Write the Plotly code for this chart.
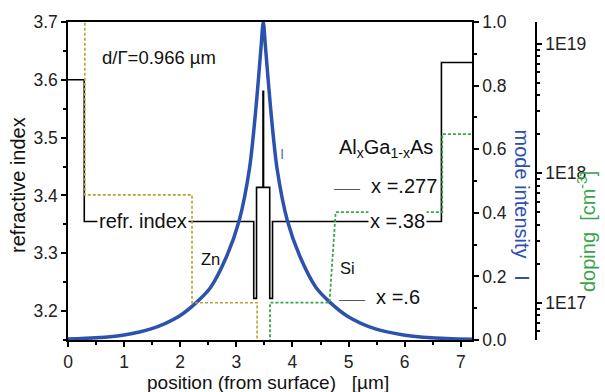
import plotly.graph_objects as go

# ---------------- data ----------------
# mode intensity profile I(x)
mode_x = [0.0, 0.5, 1.0, 1.48, 1.98, 2.30, 2.54, 2.82, 3.05, 3.235, 3.355, 3.44, 3.48,
          3.52, 3.605, 3.725, 3.91, 4.14, 4.42, 4.66, 4.98, 5.48, 5.98, 6.48, 7.2]
mode_I = [0.003, 0.007, 0.016, 0.035, 0.075, 0.12, 0.165, 0.26, 0.375, 0.54, 0.74, 0.92, 1.0,
          0.92, 0.74, 0.54, 0.375, 0.26, 0.165, 0.12, 0.075, 0.035, 0.016, 0.007, 0.002]

# refractive index step profile (value holds from each x until the next)
refr_x = [0.0, 0.29, 3.31, 3.36, 3.475, 3.485, 3.595, 3.645, 6.655, 7.2]
refr_n = [3.60, 3.355, 3.222, 3.414, 3.58, 3.414, 3.222, 3.355, 3.63, 3.63]

# Zn doping (p side), value holds until next x
zn_x = [0.0, 0.30, 2.21, 3.37]
zn_d = [2.0e19, 6.8e17, 1.0e17, 1.0e16]

# Si doping (n side)
si_x = [3.60, 3.60, 4.66, 4.77, 6.67, 6.67, 7.2]
si_d = [1.0e16, 1.0e17, 1.0e17, 5.0e17, 5.0e17, 2.0e18, 2.0e18]

x_ticks = [0, 1, 2, 3, 4, 5, 6, 7]
n_ticks = [3.2, 3.3, 3.4, 3.5, 3.6, 3.7]
I_ticks = [0.0, 0.2, 0.4, 0.6, 0.8, 1.0]
dop_ticks = [1e17, 1e18, 1e19]
dop_labels = ["1E17", "1E18", "1E19"]
dop_minor = [k * 10 ** e for e in (16, 17, 18) for k in range(2, 10)]

FONT = "Liberation Sans, Arial, sans-serif"
BLUE = "#2d52ad"
GREEN = "#3aa548"
OLIVE = "#b4a338"

fig = go.Figure()

fig.add_trace(go.Scatter(x=refr_x, y=refr_n, mode="lines", line_shape="hv",
                         line=dict(color="black", width=1.6), xaxis="x", yaxis="y",
                         showlegend=False, hoverinfo="skip"))
fig.add_trace(go.Scatter(x=zn_x, y=zn_d, mode="lines", line_shape="hv",
                         line=dict(color=OLIVE, width=1.6, dash="3px,2px"),
                         xaxis="x", yaxis="y3", showlegend=False, hoverinfo="skip"))
fig.add_trace(go.Scatter(x=si_x, y=si_d, mode="lines",
                         line=dict(color=GREEN, width=1.8, dash="3px,2px"),
                         xaxis="x", yaxis="y3", showlegend=False, hoverinfo="skip"))
fig.add_trace(go.Scatter(x=mode_x, y=mode_I, mode="lines", line_shape="spline",
                         line=dict(color=BLUE, width=3.5, smoothing=0.8), xaxis="x", yaxis="y2",
                         showlegend=False, hoverinfo="skip"))

W, H = 605, 392
ML, MR, MT, MB = 68, 69, 16, 52
pw = W - ML - MR
ph = H - MT - MB
dom_end = (472 - ML) / pw

tickfont = dict(family=FONT, size=17.5, color="#222")
axis_common = dict(showline=True, linecolor="black", linewidth=1.5, ticks="outside",
                   ticklen=5, tickwidth=1.5, tickcolor="black", showgrid=False,
                   zeroline=False, tickfont=tickfont)

fig.update_layout(
    width=W, height=H,
    margin=dict(l=ML, r=MR, t=MT, b=MB),
    paper_bgcolor="white", plot_bgcolor="white",
    font=dict(family=FONT, size=17.5, color="#222"),
    showlegend=False,
    xaxis=dict(range=[0, 7.2], domain=[0, dom_end], tickvals=x_ticks, mirror=True,
               minor=dict(dtick=0.5, ticks="outside", ticklen=3, tickcolor="black"),
               **axis_common),
    yaxis=dict(range=[3.15, 3.7], tickvals=n_ticks, tickformat=".1f",
               minor=dict(dtick=0.05, tick0=3.15, ticks="outside", ticklen=3, tickcolor="black"),
               **axis_common),
    yaxis2=dict(range=[0, 1], overlaying="y", side="right", anchor="x",
                tickvals=I_ticks, tickformat=".1f",
                minor=dict(dtick=0.1, ticks="outside", ticklen=3, tickcolor="black"),
                **axis_common),
    yaxis3=dict(type="log", range=[16.712, 19.167], overlaying="y", side="right",
                anchor="free", position=1.0, tickvals=dop_ticks, ticktext=dop_labels,
                minor=dict(tickvals=dop_minor, ticks="outside", ticklen=3, tickcolor="black"),
                **axis_common),
)


def px2paper_x(px):
    return (px - ML) / pw


def px2paper_y(py):
    return (H - MB - py) / ph


def title(text, px, py, angle, color, size=20):
    return dict(text=text, x=px2paper_x(px), y=px2paper_y(py), xref="paper", yref="paper",
                xanchor="center", yanchor="middle", textangle=angle, showarrow=False,
                font=dict(size=size, color=color))


def label(text, x, y, size=20, color="#111", bg=None):
    d = dict(text=text, x=x, y=y, xref="x", yref="y", xanchor="left", yanchor="middle",
             showarrow=False, font=dict(size=size, color=color))
    if bg:
        d.update(bgcolor=bg, borderpad=1)
    return d


ann = [
    title("refractive index", 18, 182, -90, "#111"),
    title("position (from surface)   [µm]", 268, 383, 0, "#111", size=19),
    title("mode intensity   I", 522, 202, 90, "#3050b0"),
    title("doping  [cm<sup>-3</sup>]", 586, 230, -90, GREEN),
    label("d/Γ=0.966 µm", 0.57, 3.639, size=18.5),
    label("refr. index", 0.52, 3.355, bg="white"),
    label("Al<sub>x</sub>Ga<sub>1-x</sub>As", 4.80, 3.481),
    label("<span style='color:#555;font-size:13px'>——</span>  x =.277", 4.71, 3.417),
    label("x =.38", 5.355, 3.355, bg="white"),
    label("<span style='color:#555;font-size:13px'>——</span>  x =.6", 4.80, 3.224),
    label("Si", 4.82, 3.275, size=16.5),
    label("Zn", 2.33, 3.29, size=16.5),
    dict(text="I", x=3.82, y=3.473, xref="x", yref="y", xanchor="center", yanchor="middle",
         showarrow=False, font=dict(size=15, color="#6a76a0")),
]
fig.update_layout(annotations=ann)

fig.write_html("out.html")
